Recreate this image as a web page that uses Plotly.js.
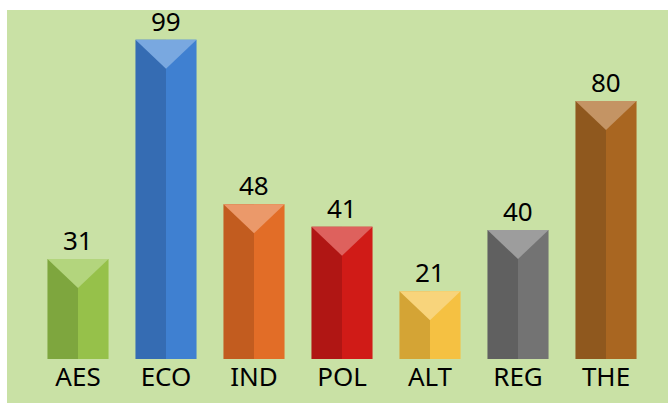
<!DOCTYPE html>
<html>
<head>
<meta charset="utf-8">
<script src="https://cdn.plot.ly/plotly-3.0.1.min.js"></script>
<style>
  html, body { margin: 0; padding: 0; background: #ffffff; width: 668px; height: 406px; overflow: hidden; }
  #chart { position: absolute; left: 0; top: 0; width: 668px; height: 406px; }
</style>
</head>
<body>
<div id="chart"></div>
<script>
const categories = ["AES", "ECO", "IND", "POL", "ALT", "REG", "THE"];
const values = [31, 99, 48, 41, 21, 40, 80];
const leftColors = ["#7ea63e", "#356cb3", "#c25c1f", "#b01614", "#d4a435", "#606060", "#8f581e"];
const rightColors = ["#96c14a", "#3f80d1", "#e26d27", "#d01b17", "#f5c142", "#737373", "#a96621"];
const topColors = ["#b3d57d", "#79a8e0", "#eb996a", "#de615d", "#f8d47b", "#9d9d9d", "#c49464"];

const positions = categories.map((c, i) => i);
const half = 0.347;
const depth = 9;

const traces = [];
traces.push({
  type: "bar", x: positions, y: values, width: half, offset: -half,
  marker: { color: leftColors, line: { width: 0 } }, hoverinfo: "skip", showlegend: false
});
traces.push({
  type: "bar", x: positions, y: values, width: half, offset: 0,
  marker: { color: rightColors, line: { width: 0 } }, hoverinfo: "skip", showlegend: false
});
values.forEach((v, i) => {
  traces.push({
    type: "scatter", mode: "lines",
    x: [i - half, i + half, i, i - half],
    y: [v, v, v - depth, v],
    fill: "toself", fillcolor: topColors[i],
    line: { width: 0, color: topColors[i] },
    hoverinfo: "skip", showlegend: false
  });
});

const annotations = values.map((v, i) => ({
  x: i, y: v, xref: "x", yref: "y",
  text: String(v), showarrow: false,
  xanchor: "center", yanchor: "bottom", yshift: -1,
  font: { family: "Noto Sans", size: 26, color: "#000000" }
}));

const W = 668, H = 406;
const m = { l: 34, r: 18, t: 30, b: 47 };
const pw = W - m.l - m.r, ph = H - m.t - m.b;

const layout = {
  width: W, height: H,
  margin: m,
  paper_bgcolor: "#ffffff", plot_bgcolor: "rgba(0,0,0,0)",
  barmode: "overlay",
  showlegend: false,
  font: { family: "Noto Sans", size: 26, color: "#000000" },
  annotations: annotations,
  shapes: [{
    type: "rect", xref: "paper", yref: "paper", layer: "below",
    x0: (7 - m.l) / pw, x1: (W - m.l) / pw,
    y0: (H - m.b - 403) / ph, y1: (H - m.b - 10) / ph,
    fillcolor: "#c9e1a5", line: { width: 0 }
  }],
  xaxis: {
    range: [-0.5, 6.5], tickvals: positions, ticktext: categories,
    showgrid: false, zeroline: false, showline: false, ticks: "",
    tickfont: { family: "Noto Sans", size: 26, color: "#000000" },
    fixedrange: true
  },
  yaxis: { range: [0, 102], visible: false, showgrid: false, zeroline: false, fixedrange: true }
};

Plotly.newPlot("chart", traces, layout, { displayModeBar: false, staticPlot: true });
</script>
</body>
</html>
